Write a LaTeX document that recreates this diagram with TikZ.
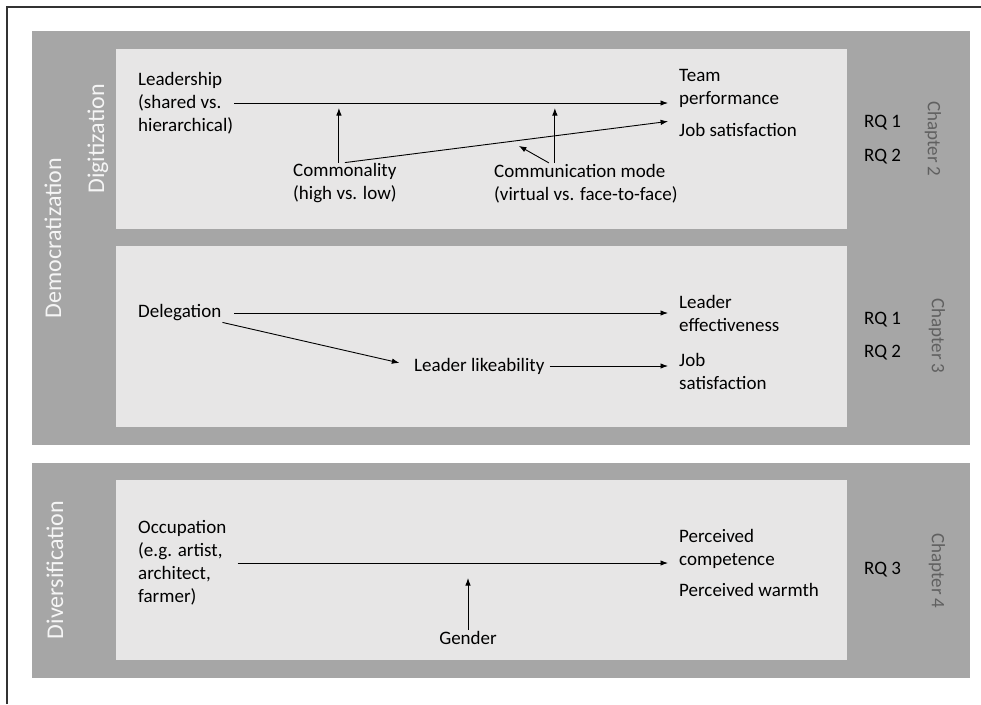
\documentclass[tikz,border=0pt]{standalone}
\usepackage{fontspec}
\setmainfont{Carlito}
\usetikzlibrary{arrows.meta}

\definecolor{band}{RGB}{166,166,166}
\definecolor{panel}{RGB}{231,230,230}
\definecolor{chapgray}{RGB}{96,96,96}

\begin{document}
\begin{tikzpicture}[x=1pt,y=-1pt]
\tikzset{ >={Latex[length=7.5pt,width=5.5pt]},
  txt/.style={anchor=west, align=left, inner sep=1pt, font=\fontsize{19}{23}\selectfont},
  sidelbl/.style={rotate=90, white!92!gray, inner sep=0pt, font=\fontsize{24}{28}\selectfont},
  chaplbl/.style={rotate=-90, chapgray, inner sep=0pt, font=\fontsize{19}{23}\selectfont},
  arr/.style={->, line width=0.9pt},
  toout/.style={->, line width=0.9pt, shorten >=10pt},
}
\useasboundingbox (0,0) rectangle (981,704);
%\draw [lightgray, dashed](0,0) grid[step=50] (981,704);

% frame and bands
\draw [line width=1.5pt, black!80] (7,704) -- (7,7) -- (981,7);
\fill [band]  (32,31)   rectangle (970,445);
\fill [band]  (32,463)  rectangle (970,678);
\fill [panel] (116,49)  rectangle (847,229);
\fill [panel] (116,246) rectangle (847,427);
\fill [panel] (116,480) rectangle (847,660);

% side labels
\node [sidelbl] (democ)  at (53,238) {Democratization};
\node [sidelbl] (digit)  at (98,139) {Digitization};
\node [sidelbl] (divers) at (55,570) {Diversification};

\node [chaplbl] (ch2) at (933,139) {Chapter 2};
\node [chaplbl] (ch3) at (937,336) {Chapter 3};
\node [chaplbl] (ch4) at (937,571) {Chapter 4};

% chapter 2
\node [txt] (lead)   at (137,103)   {Leadership\\(shared vs.\\hierarchical)};
\node [txt] (team)   at (678,88.5)  {Team\\performance};
\node [txt] (jobsat) at (678,130)   {Job satisfaction};
\node [txt] (common) at (292,183.5) {Commonality\\(high vs. low)};
\node [txt] (comm)   at (493,183.5) {Communication mode\\(virtual vs. face-to-face)};
\node [txt] (rq1a)   at (863,123)   {RQ 1};
\node [txt] (rq2a)   at (863,157)   {RQ 2};

\draw [toout] (lead.east) -- (lead.east -| team.west);
\draw [toout] (common.north) -- ([yshift=2pt]jobsat.north west);
\draw [arr, shorten >=5pt] ([xshift=-6pt]common.north) -- ([xshift=-6pt]common.north |- lead.east);
\draw [arr, shorten >=5pt] ([xshift=-31pt]comm.north) -- ([xshift=-31pt]comm.north |- lead.east);
\draw [arr] ([xshift=-37pt]comm.north) -- ++(-30,-17);

% chapter 3
\node [txt] (deleg)   at (137,313)   {Delegation};
\node [txt] (likeab)  at (413,366)   {Leader likeability};
\node [txt] (leff)    at (678,313.5) {Leader\\effectiveness};
\node [txt] (jobsat2) at (678,371.5) {Job\\satisfaction};
\node [txt] (rq1b)    at (863,320)   {RQ 1};
\node [txt] (rq2b)    at (863,353)   {RQ 2};

\draw [toout] ([xshift=12pt]deleg.east) -- (deleg.east -| leff.west);
\draw [arr, shorten >=14pt] (deleg.south east) -- (likeab.west);
\draw [toout] ([xshift=4pt]likeab.east) -- (likeab.east -| jobsat2.west);

% chapter 4
\node [txt] (occup)  at (137,563)   {Occupation\\(e.g. artist,\\architect,\\farmer)};
\node [txt] (perc)   at (678,548.5) {Perceived\\competence};
\node [txt] (warm)   at (678,590)   {Perceived warmth};
\node [txt, anchor=center] (gender) at (468,638) {Gender};
\node [txt] (rq3)    at (863,570)   {RQ 3};

\draw [toout] ([xshift=10pt]occup.east) -- (occup.east -| perc.west);
\draw [arr, shorten >=15pt] (gender.north) -- (gender.north |- occup.east);

\end{tikzpicture}
\end{document}
